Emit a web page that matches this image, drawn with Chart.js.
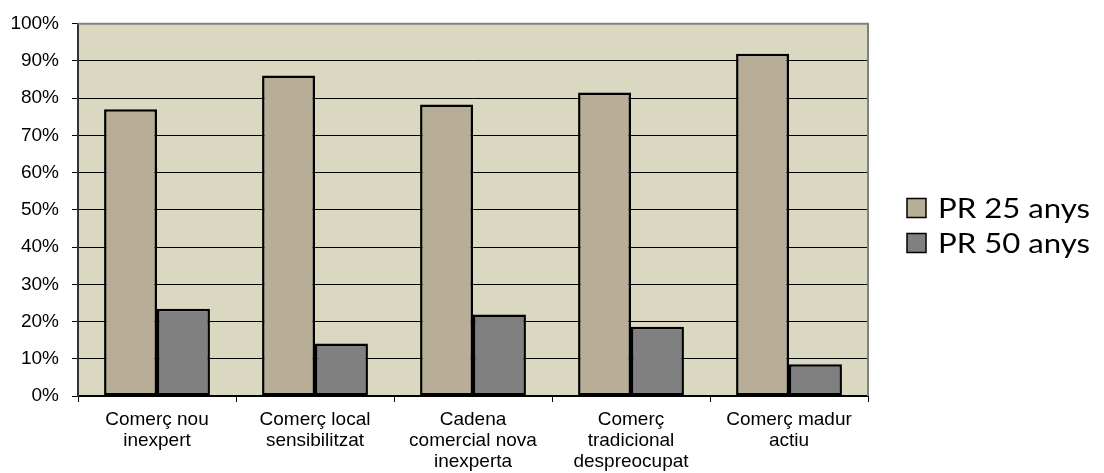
<!DOCTYPE html>
<html>
<head>
<meta charset="utf-8">
<script src="https://cdn.jsdelivr.net/npm/chart.js@4/dist/chart.umd.min.js"></script>
<style>
html,body{margin:0;padding:0;background:#fff;}
#wrap{width:1104px;height:473px;position:relative;}
</style>
</head>
<body>
<div id="wrap"><canvas id="c" width="1104" height="473"></canvas></div>
<script>
const categories = [
  ["Comerç nou", "inexpert"],
  ["Comerç local", "sensibilitzat"],
  ["Cadena", "comercial nova", "inexperta"],
  ["Comerç", "tradicional", "despreocupat"],
  ["Comerç madur", "actiu"]
];
const seriesNames = ["PR 25 anys", "PR 50 anys"];
const pr25 = [77.0, 86.1, 78.3, 81.5, 91.9];
const pr50 = [23.4, 14.1, 21.9, 18.6, 8.5];
const yTicks = [0, 10, 20, 30, 40, 50, 60, 70, 80, 90, 100];

const colors = ["#B8AE98", "#808080"];

const bgPlugin = {
  id: 'plotBg',
  beforeDraw(chart) {
    const {ctx, chartArea: a} = chart;
    ctx.save();
    ctx.fillStyle = '#DAD8C0';
    ctx.fillRect(a.left, a.top, a.right - a.left, a.bottom - a.top);
    ctx.restore();
  },
  afterDatasetsDraw(chart) {
    const {ctx, chartArea: a} = chart;
    ctx.save();
    ctx.strokeStyle = '#808080';
    ctx.lineWidth = 2;
    ctx.beginPath();
    ctx.moveTo(a.left, a.top);
    ctx.lineTo(a.right, a.top);
    ctx.lineTo(a.right, a.bottom);
    ctx.stroke();
    ctx.restore();
  }
};

const legendPlugin = {
  id: 'sideLegend',
  afterDraw(chart) {
    const {ctx, chartArea: a} = chart;
    ctx.save();
    const x0 = a.right + 39;
    const ys = [208, 243];
    ctx.font = '27px Lato, "Open Sans", sans-serif';
    const w0 = ctx.measureText(chart.data.datasets[0].label).width;
    const sx = 152 / w0;
    chart.data.datasets.forEach((ds, i) => {
      const y = ys[i];
      ctx.fillStyle = ds.backgroundColor;
      ctx.fillRect(x0, y - 9.5, 19, 19);
      ctx.strokeStyle = '#000';
      ctx.lineWidth = 1.5;
      ctx.strokeRect(x0, y - 9.5, 19, 19);
      ctx.fillStyle = '#000';
      ctx.textBaseline = 'middle';
      ctx.textAlign = 'left';
      ctx.save();
      ctx.translate(x0 + 31, y + 1);
      ctx.scale(sx, 1);
      ctx.fillText(ds.label, 0, 0);
      ctx.restore();
    });
    ctx.restore();
  }
};

const tickFont = {family: '"Liberation Sans", Arial, sans-serif', size: 19, lineHeight: 1.12};

new Chart(document.getElementById('c'), {
  type: 'bar',
  data: {
    labels: categories,
    datasets: [
      {label: seriesNames[0], data: pr25, backgroundColor: colors[0], borderColor: '#000', borderWidth: 2.5, borderSkipped: false},
      {label: seriesNames[1], data: pr50, backgroundColor: colors[1], borderColor: '#000', borderWidth: 2.5, borderSkipped: false}
    ]
  },
  options: {
    responsive: false,
    animation: false,
    layout: {padding: {top: 23, right: 236, left: 0, bottom: 0}},
    datasets: {bar: {categoryPercentage: 0.67, barPercentage: 1.0}},
    plugins: {legend: {display: false}, tooltip: {enabled: false}},
    scales: {
      x: {
        offset: true,
        grid: {offset: true, drawOnChartArea: false, drawTicks: true, tickLength: 6, color: '#000', lineWidth: 1},
        border: {display: true, color: '#000', width: 2},
        ticks: {color: '#000', font: tickFont, padding: 7, maxRotation: 0, autoSkip: false},
        afterFit(scale) { scale.height = 77; }
      },
      y: {
        min: 0, max: 100,
        afterBuildTicks(scale) { scale.ticks = yTicks.map(v => ({value: v})); },
        grid: {color: (c) => c.tick && c.tick.value === 100 ? '#808080' : '#000', lineWidth: 1, drawTicks: true, tickLength: 6, tickColor: '#000'},
        border: {display: true, color: '#333', width: 2},
        ticks: {color: '#000', font: tickFont, padding: 13, callback: v => v + '%'},
        afterFit(scale) { scale.width = 78; }
      }
    }
  },
  plugins: [bgPlugin, legendPlugin]
});
</script>
</body>
</html>
